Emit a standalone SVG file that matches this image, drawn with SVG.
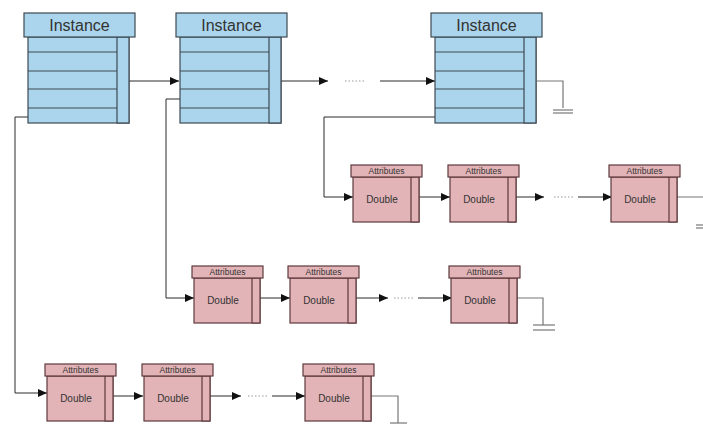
<svg xmlns="http://www.w3.org/2000/svg" width="703" height="426" viewBox="0 0 703 426">
  <style>
    .inst { fill: #abd5ec; stroke: #3c4a54; stroke-width: 1.2; }
    .attr { fill: #e2b3b7; stroke: #5e3a3d; stroke-width: 1.2; }
    .row { stroke: #3c4a54; stroke-width: 1.2; }
    .ttl { font-family: "Liberation Sans", Arial, sans-serif; font-size: 16px; fill: #333; text-anchor: middle; }
    .atl { font-family: "Liberation Sans", Arial, sans-serif; font-size: 8.5px; fill: #333; text-anchor: middle; }
    .dbl { font-family: "Liberation Sans", Arial, sans-serif; font-size: 10px; fill: #333; text-anchor: middle; }
    .wire { fill: none; stroke: #2a2a2a; stroke-width: 1; }
    .gnd { fill: none; stroke: #777; stroke-width: 1.2; }
    .dots { stroke: #999; stroke-width: 1; stroke-dasharray: 1.5 2; }
  </style>
  <defs>
    <marker id="arr" markerWidth="10" markerHeight="8" refX="9" refY="4" orient="auto" markerUnits="userSpaceOnUse">
      <path d="M0,0 L9,4 L0,8 Z" fill="#111"/>
    </marker>
    <g id="instance">
      <rect class="inst" x="4" y="24" width="101" height="86"/>
      <rect class="inst" x="93" y="24" width="12" height="86"/>
      <line class="row" x1="4" y1="39" x2="93" y2="39"/>
      <line class="row" x1="4" y1="58" x2="93" y2="58"/>
      <line class="row" x1="4" y1="76" x2="93" y2="76"/>
      <line class="row" x1="4" y1="95" x2="93" y2="95"/>
      <rect class="inst" x="0" y="0" width="111" height="24"/>
    </g>
    <g id="attrbox">
      <rect class="attr" x="2" y="12" width="66" height="45"/>
      <rect class="attr" x="60" y="12" width="8" height="45"/>
      <rect class="attr" x="0" y="0" width="71" height="12"/>
    </g>
  </defs>

  <!-- connectors -->
  <g id="connectors">
    <!-- instance chain -->
    <line class="wire" x1="124" y1="81" x2="179" y2="81" marker-end="url(#arr)"/>
    <line class="wire" x1="276" y1="81" x2="328" y2="81" marker-end="url(#arr)"/>
    <line class="dots" x1="345" y1="81" x2="366" y2="81"/>
    <line class="wire" x1="380" y1="81" x2="435" y2="81" marker-end="url(#arr)"/>
    <polyline class="gnd" points="537,81 563,81 563,108"/>
    <line class="gnd" x1="553" y1="110" x2="573" y2="110"/>
    <line class="gnd" x1="553" y1="113" x2="573" y2="113"/>

    <!-- instance to attribute lists -->
    <polyline class="wire" points="28,117 15,117 15,393 47,393" marker-end="url(#arr)"/>
    <polyline class="wire" points="180,99 166,99 166,298 194,298" marker-end="url(#arr)"/>
    <polyline class="wire" points="435,117 324,117 324,197 353,197" marker-end="url(#arr)"/>

    <!-- attribute list 1 -->
    <line class="wire" x1="416" y1="197" x2="450" y2="197" marker-end="url(#arr)"/>
    <line class="wire" x1="513" y1="197" x2="544" y2="197" marker-end="url(#arr)"/>
    <line class="dots" x1="554" y1="197" x2="575" y2="197"/>
    <line class="wire" x1="578" y1="197" x2="612" y2="197" marker-end="url(#arr)"/>
    <polyline class="gnd" points="673,197 706,197 706,222"/>
    <line class="gnd" x1="696" y1="225" x2="716" y2="225"/>
    <line class="gnd" x1="696" y1="228" x2="716" y2="228"/>

    <!-- attribute list 2 -->
    <line class="wire" x1="256" y1="298" x2="290" y2="298" marker-end="url(#arr)"/>
    <line class="wire" x1="353" y1="298" x2="388" y2="298" marker-end="url(#arr)"/>
    <line class="dots" x1="394" y1="298" x2="414" y2="298"/>
    <line class="wire" x1="418" y1="298" x2="452" y2="298" marker-end="url(#arr)"/>
    <polyline class="gnd" points="513,298 543,298 543,325"/>
    <line class="gnd" x1="533" y1="325" x2="555" y2="325"/>
    <line class="gnd" x1="533" y1="330" x2="555" y2="330"/>

    <!-- attribute list 3 -->
    <line class="wire" x1="110" y1="396" x2="143" y2="396" marker-end="url(#arr)"/>
    <line class="wire" x1="207" y1="396" x2="241" y2="396" marker-end="url(#arr)"/>
    <line class="dots" x1="248" y1="396" x2="268" y2="396"/>
    <line class="wire" x1="272" y1="396" x2="305" y2="396" marker-end="url(#arr)"/>
    <polyline class="gnd" points="368,396 398,396 398,423"/>
    <line class="gnd" x1="390" y1="423" x2="407" y2="423"/>
  </g>

  <!-- instances -->
  <g id="instance1" transform="translate(24,13)">
    <use href="#instance"/>
    <text class="ttl" x="55.5" y="18">Instance</text>
  </g>
  <g id="instance2" transform="translate(176,13)">
    <use href="#instance"/>
    <text class="ttl" x="55.5" y="18">Instance</text>
  </g>
  <g id="instance3" transform="translate(431,13)">
    <use href="#instance"/>
    <text class="ttl" x="55.5" y="18">Instance</text>
  </g>

  <!-- attribute list 1 -->
  <g id="attr1a" transform="translate(351,165)">
    <use href="#attrbox"/>
    <text class="atl" x="35.5" y="9">Attributes</text>
    <text class="dbl" x="31" y="38">Double</text>
  </g>
  <g id="attr1b" transform="translate(448,165)">
    <use href="#attrbox"/>
    <text class="atl" x="35.5" y="9">Attributes</text>
    <text class="dbl" x="31" y="38">Double</text>
  </g>
  <g id="attr1c" transform="translate(609,165)">
    <use href="#attrbox"/>
    <text class="atl" x="35.5" y="9">Attributes</text>
    <text class="dbl" x="31" y="38">Double</text>
  </g>

  <!-- attribute list 2 -->
  <g id="attr2a" transform="translate(192,266)">
    <use href="#attrbox"/>
    <text class="atl" x="35.5" y="9">Attributes</text>
    <text class="dbl" x="31" y="38">Double</text>
  </g>
  <g id="attr2b" transform="translate(288,266)">
    <use href="#attrbox"/>
    <text class="atl" x="35.5" y="9">Attributes</text>
    <text class="dbl" x="31" y="38">Double</text>
  </g>
  <g id="attr2c" transform="translate(449,266)">
    <use href="#attrbox"/>
    <text class="atl" x="35.5" y="9">Attributes</text>
    <text class="dbl" x="31" y="38">Double</text>
  </g>

  <!-- attribute list 3 -->
  <g id="attr3a" transform="translate(45,364)">
    <use href="#attrbox"/>
    <text class="atl" x="35.5" y="9">Attributes</text>
    <text class="dbl" x="31" y="38">Double</text>
  </g>
  <g id="attr3b" transform="translate(142,364)">
    <use href="#attrbox"/>
    <text class="atl" x="35.5" y="9">Attributes</text>
    <text class="dbl" x="31" y="38">Double</text>
  </g>
  <g id="attr3c" transform="translate(303,364)">
    <use href="#attrbox"/>
    <text class="atl" x="35.5" y="9">Attributes</text>
    <text class="dbl" x="31" y="38">Double</text>
  </g>
</svg>
